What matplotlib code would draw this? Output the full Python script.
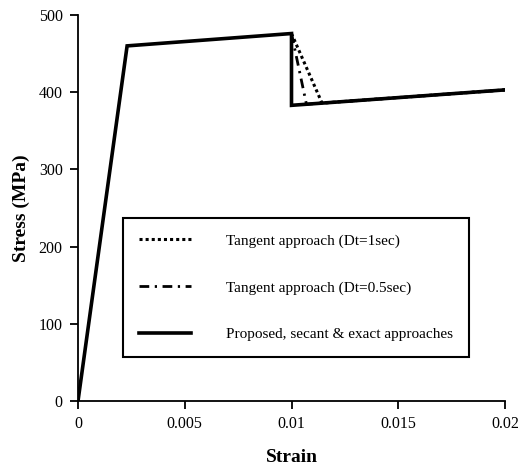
import matplotlib.pyplot as plt


# stress-strain paths
exact_strain = [0.0, 0.0023, 0.0100, 0.0100, 0.0200]
exact_stress = [0.0, 460.0, 476.0, 383.0, 403.0]

tan1_strain = [0.0100, 0.01143, 0.0200]
tan1_stress = [476.0, 385.9, 403.0]

tan05_strain = [0.0100, 0.0107, 0.0200]
tan05_stress = [476.0, 384.4, 403.0]

x_ticks = [0, 0.005, 0.01, 0.015, 0.02]
x_tick_labels = ['0', '0.005', '0.01', '0.015', '0.02']
y_ticks = [0, 100, 200, 300, 400, 500]

plt.rcParams['font.family'] = ['Liberation Serif', 'DejaVu Serif']


def main():
    fig = plt.figure(figsize=(5.19, 4.71), dpi=100)
    ax = fig.add_axes([78 / 519, 1 - 401 / 471, 427 / 519, 386 / 471])

    ax.plot(exact_strain, exact_stress, color='black', lw=2.6,
            solid_joinstyle='miter', label='Proposed, secant & exact approaches')
    ax.plot(tan1_strain, tan1_stress, color='black', lw=2.2,
            linestyle=(0, (1.0, 1.0)), label='Tangent approach (Dt=1sec)')
    ax.plot(tan05_strain, tan05_stress, color='black', lw=2.0,
            linestyle=(0, (3.5, 2.0, 0.8, 2.0)),
            label='Tangent approach (Dt=0.5sec)')

    ax.set_xlim(0, 0.02)
    ax.set_ylim(0, 500)
    ax.set_xticks(x_ticks)
    ax.set_xticklabels(x_tick_labels)
    ax.set_yticks(y_ticks)
    ax.spines['top'].set_visible(False)
    ax.spines['right'].set_visible(False)
    for side in ('left', 'bottom'):
        ax.spines[side].set_linewidth(1.3)
    ax.tick_params(direction='out', length=6, width=1.3, labelsize=11.5,
                   pad=5)

    ax.set_xlabel('Strain', fontsize=14, fontweight='bold', labelpad=12)
    ax.set_ylabel('Stress (MPa)', fontsize=14, fontweight='bold', labelpad=6)

    handles, labels = ax.get_legend_handles_labels()
    order = [1, 2, 0]
    leg = ax.legend([handles[i] for i in order], [labels[i] for i in order],
                    loc='upper left',
                    bbox_to_anchor=(45 / 427, (401 - 218) / 386),
                    fontsize=11, frameon=True, fancybox=False,
                    handlelength=3.4, handletextpad=2.3, labelspacing=2.15,
                    borderpad=1.05, borderaxespad=0)
    frame = leg.get_frame()
    frame.set_edgecolor('black')
    frame.set_linewidth(1.5)
    frame.set_alpha(1)

    fig.savefig('out.png', dpi=100)


if __name__ == '__main__':
    main()
